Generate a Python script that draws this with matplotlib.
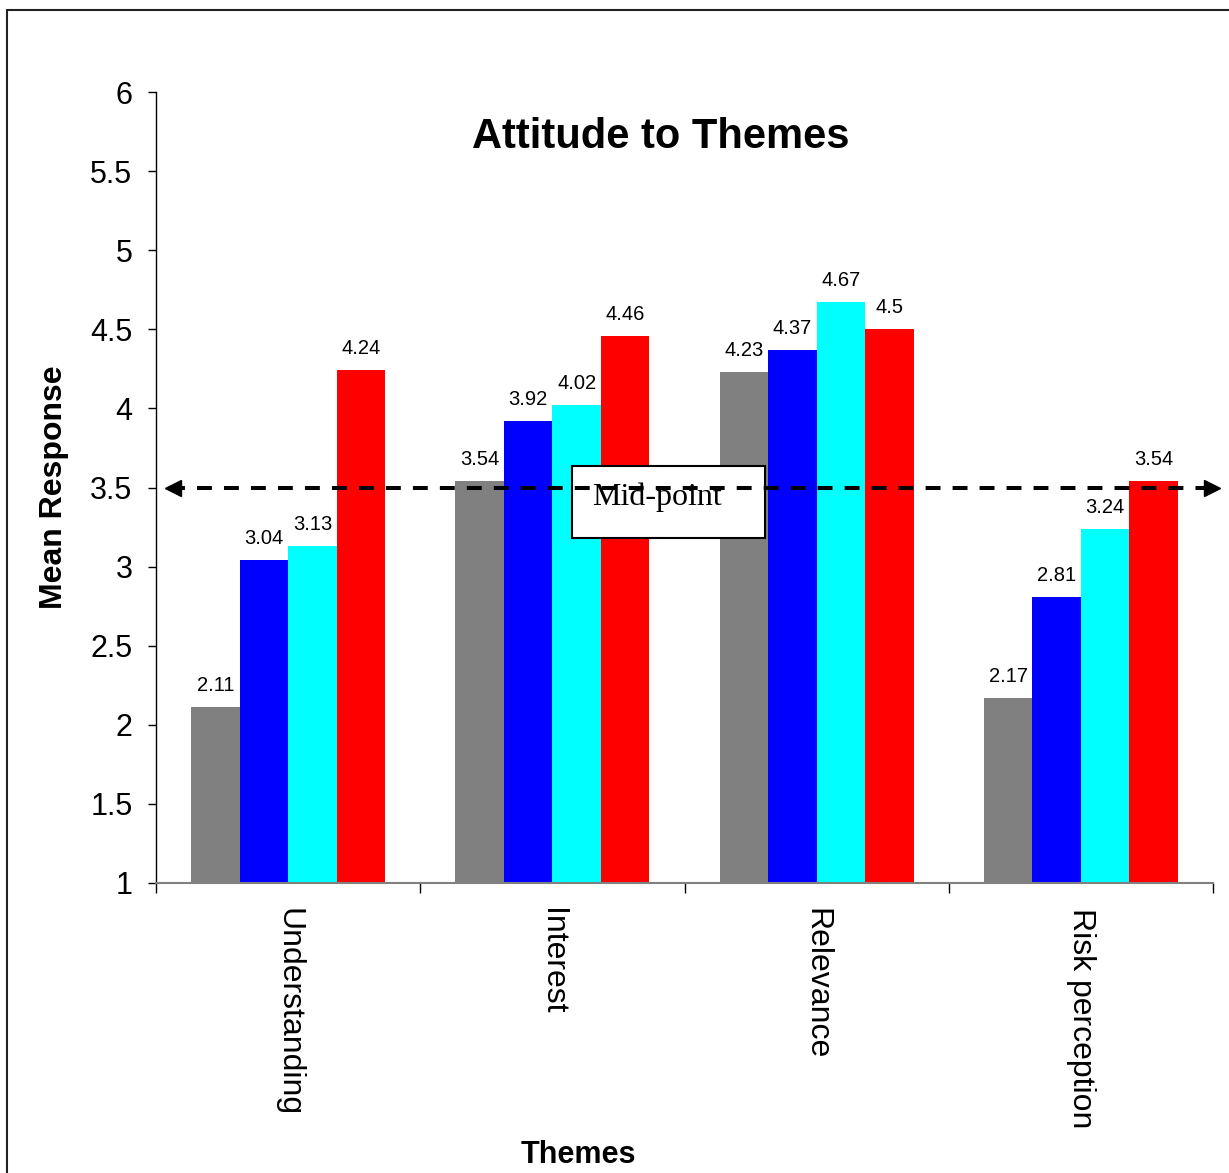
import matplotlib
matplotlib.use("Agg")
import matplotlib.pyplot as plt
import numpy as np
from matplotlib.patches import Rectangle

plt.rcParams['font.family'] = ['Liberation Sans', 'DejaVu Sans']

# Data
themes = ["Understanding", "Interest", "Relevance", "Risk perception"]
series_1 = [2.11, 3.54, 4.23, 2.17]
series_2 = [3.04, 3.92, 4.37, 2.81]
series_3 = [3.13, 4.02, 4.67, 3.24]
series_4 = [4.24, 4.46, 4.50, 3.54]
series_colors = ["#808080", "#0000FF", "#00FFFF", "#FF0000"]
y_ticks = [1, 1.5, 2, 2.5, 3, 3.5, 4, 4.5, 5, 5.5, 6]
midpoint = 3.5

W, H = 1229, 1173
fig = plt.figure(figsize=(W / 100, H / 100), dpi=100)
ax = fig.add_axes([156 / W, 1 - 883 / H, (1213 - 156) / W, (883 - 92) / H])

x = np.arange(len(themes))
bar_w = 0.1835
all_series = [series_1, series_2, series_3, series_4]
for i, (vals, col) in enumerate(zip(all_series, series_colors)):
    pos = x + (i - 1.5) * bar_w
    ax.bar(pos, vals, width=bar_w, color=col, bottom=0, zorder=2, linewidth=0)
    for px, v in zip(pos, vals):
        ax.annotate(f"{v:g}", (px, v), xytext=(0, 11.5), textcoords="offset points",
                    ha="center", va="baseline", fontsize=14.5, zorder=5)

ax.set_xlim(-0.5, len(themes) - 0.5)
ax.set_ylim(1, 6)
ax.set_yticks(y_ticks)
ax.set_yticklabels([f"{t:g}" for t in y_ticks], fontsize=22)
ax.tick_params(axis="y", direction="out", length=6, width=1, color="black", pad=11)

# category labels at centres, tick marks at boundaries
ax.set_xticks(x)
ax.set_xticklabels(themes, rotation=270, fontsize=23)
for lbl in ax.get_xticklabels():
    lbl.set_x(lbl.get_position()[0])
ax.tick_params(axis="x", which="major", length=0, pad=18)
ax.set_xticks(np.arange(-0.5, len(themes), 1.0), minor=True)
ax.tick_params(axis="x", which="minor", direction="out", length=7, width=1, color="black")

for s in ["top", "right"]:
    ax.spines[s].set_visible(False)
ax.spines["left"].set_color("black")
ax.spines["left"].set_linewidth(1)
ax.spines["bottom"].set_color("#808080")
ax.spines["bottom"].set_linewidth(1.5)
ax.spines["bottom"].set_zorder(3)

# Mid-point reference line with arrowheads
x_left, x_right = -0.466, 3.526
ax.plot([x_left + 0.02, x_right - 0.02], [midpoint, midpoint], color="black", lw=2.9,
        dashes=(3.7, 3.0), clip_on=False, zorder=6)
ax.plot([x_left + 0.03], [midpoint], marker="<", color="black", markersize=11,
        clip_on=False, zorder=6, linestyle="none")
ax.plot([x_right - 0.03], [midpoint], marker=">", color="black", markersize=11,
        clip_on=False, zorder=6, linestyle="none")

# Mid-point label box
box = Rectangle((572 / W, 1 - 538 / H), 193 / W, 72 / H, transform=fig.transFigure,
                facecolor="white", edgecolor="black", linewidth=1.5, zorder=4)
ax.add_artist(box)
box.set_clip_on(False)
ax.text(657 / W, 1 - 497 / H, "Mid-point", transform=fig.transFigure,
        family=["Liberation Serif", "DejaVu Serif"], fontsize=23,
        ha="center", va="center", zorder=5)

# Titles
fig.text(661 / W, 1 - 137 / H, "Attitude to Themes", fontsize=30, fontweight="bold",
         ha="center", va="center")
fig.text(54 / W, 1 - 487 / H, "Mean Response", fontsize=23, fontweight="bold",
         rotation=90, ha="center", va="center")
fig.text(578 / W, 1 - 1155 / H, "Themes", fontsize=22, fontweight="bold",
         ha="center", va="center")

# Outer frame
frame = Rectangle((7 / W, -0.1), 1.2, 1 - 10 / H + 0.1, transform=fig.transFigure,
                  facecolor="none", edgecolor="#222222", linewidth=1.5)
fig.add_artist(frame)

fig.savefig("out.png", dpi=100)
